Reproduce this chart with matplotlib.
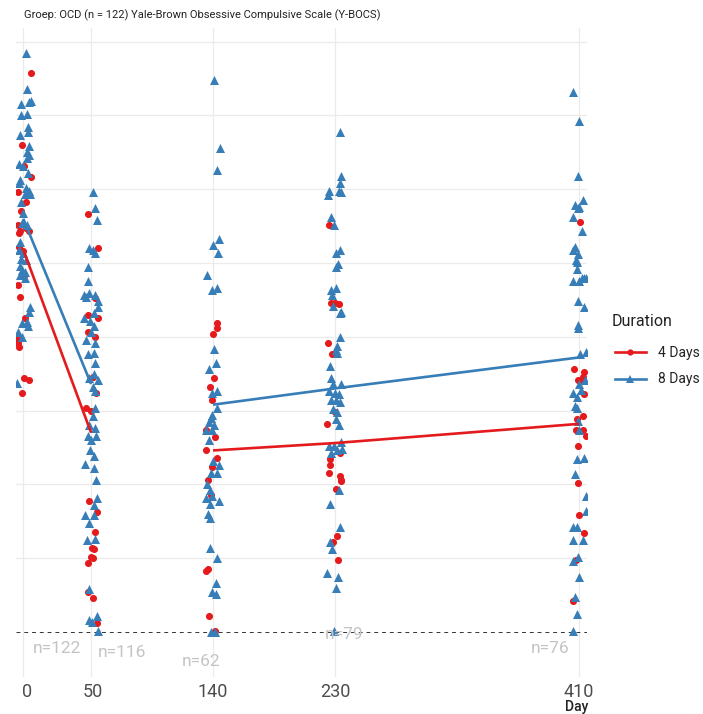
import matplotlib
matplotlib.use("Agg")
import matplotlib.pyplot as plt
import matplotlib.transforms as mtransforms
from matplotlib.lines import Line2D

plt.rcParams['font.family'] = ['Roboto', 'DejaVu Sans']

# ---- data ----
days = [0, 50, 140, 230, 410]
day_labels = ["0", "50", "140", "230", "410"]
n_per_day = [122, 116, 62, 79, 76]
groups = ["4 Days", "8 Days"]

# Y-BOCS scores per day (4 days group)
red_scores = {
    0: [37.9, 33.0, 31.6, 30.8, 29.8, 29.1, 28.5, 27.6, 27.2, 27.4, 27.2, 27.0, 26.1, 25.8,
        24.1, 23.5, 22.7, 21.3, 19.9, 19.6, 19.3, 17.2, 17.1, 16.2],
    50: [28.3, 26.0, 22.6, 21.5, 21.3, 20.3, 20.0, 17.3, 16.2, 15.2, 15.0, 8.9, 8.1, 6.8,
         5.7, 5.6, 5.1, 5.0, 4.7, 2.7, 2.3, 0.6],
    140: [20.9, 20.6, 20.2, 17.2, 16.6, 15.7, 13.7, 13.2, 12.3, 11.8, 11.2, 10.3, 9.3, 4.1,
          4.3, 1.1, 0.1],
    230: [27.6, 22.3, 22.3, 22.2, 19.6, 18.8, 14.9, 14.1, 12.1, 11.7, 11.3, 10.8, 10.6, 10.3,
          10.2, 9.7, 6.5, 6.1, 4.9],
    410: [27.8, 17.8, 17.6, 17.3, 17.1, 17.1, 16.1, 14.6, 14.4, 13.7, 13.7, 13.3, 12.6, 10.1,
          7.9, 6.7, 4.9, 2.1],
}
# horizontal jitter (days) of each red point as seen in the picture
red_jitter = {
    0: [5.5, -0.7, 0.5, 5.7, -3.7, 1.8, -1.7, -3.9, -2.8, 1.8, 4.2, -3.2, -3.2, -0.2,
        0.5, -3.7, -2.4, 1.3, -3.9, -3.9, -3.2, 0.5, 4.2, -1.2],
    50: [-2.0, 5.4, 3.0, -2.5, 4.9, -2.5, 3.2, 1.2, 3.7, -3.7, 0.0, -1.3, 4.1, 3.2,
         0.7, 2.4, 0.0, 1.7, -2.5, -2.5, 1.2, 4.1],
    140: [2.7, 2.7, 0.0, 0.7, -2.4, -0.5, -5.4, 1.3, -4.9, 3.2, -1.0, -3.7, -1.7, -4.9,
          -3.5, -3.0, 1.3],
    230: [-4.4, -3.2, 0.0, 3.0, -4.9, -2.0, 0.0, -5.7, 3.5, -3.9, -3.7, -4.4, 3.5, 4.2,
          4.2, 0.5, 1.3, -1.3, 2.4],
    410: [0.7, -3.7, 3.7, 3.2, -1.0, 2.0, 3.7, 2.7, -1.3, -2.4, 3.2, 4.9, -0.5, -0.5,
          0.2, 3.9, -2.2, -4.6],
}

# Y-BOCS scores per day (8 days group)
blue_scores = {
    0: [39.2, 36.8, 35.8, 35.9, 36.0, 35.0, 35.1, 34.2, 33.9, 33.7, 32.9, 32.5, 32.3, 32.1,
        31.7, 31.6, 31.1, 30.6, 30.4, 30.1, 29.9, 29.7, 29.7, 29.1, 28.4, 27.7, 27.6, 26.4,
        25.9, 25.7, 25.3, 25.2, 24.8, 24.5, 24.4, 24.2, 24.0, 22.0, 21.7, 20.9, 21.0, 20.7,
        20.3, 20.0, 16.9],
    50: [29.8, 28.7, 27.9, 26.0, 25.9, 25.7, 24.7, 23.8, 22.8, 23.0, 22.7, 22.8, 22.4, 22.0,
         21.6, 21.3, 21.1, 20.7, 20.3, 19.8, 19.6, 18.9, 18.8, 18.2, 17.5, 17.2, 17.1, 16.6,
         16.3, 15.2, 14.6, 14.0, 13.8, 13.3, 13.3, 13.0, 12.3, 11.9, 11.4, 11.1, 10.3, 9.1,
         8.6, 7.9, 7.9, 7.4, 6.2, 6.3, 2.9, 1.1, 0.8, 0.7, 0.1],
    140: [37.4, 32.8, 31.3, 26.6, 26.2, 25.7, 24.2, 23.2, 23.3, 19.2, 18.2, 17.8, 16.3, 16.2,
          15.2, 14.7, 14.5, 14.2, 14.0, 13.7, 13.7, 13.0, 11.6, 11.3, 10.8, 10.8, 10.0, 9.6,
          9.1, 9.2, 8.7, 8.9, 8.0, 7.7, 5.7, 5.0, 3.3, 2.7, 2.6, 0.0, 0.0],
    230: [33.9, 30.9, 30.4, 29.9, 29.9, 29.8, 29.6, 28.1, 27.6, 25.9, 25.7, 24.9, 24.7, 23.2,
          23.3, 22.8, 22.1, 21.7, 21.6, 20.0, 19.4, 19.1, 18.9, 18.0, 17.2, 16.8, 16.8, 16.3,
          16.2, 16.1, 15.7, 15.7, 15.6, 15.1, 14.9, 14.4, 14.0, 12.9, 12.4, 12.6, 12.6, 12.1,
          12.3, 9.6, 8.7, 7.1, 6.1, 5.6, 4.0, 3.7, 3.0, 0.1],
    410: [36.6, 34.6, 30.9, 29.3, 28.9, 28.7, 28.8, 28.1, 27.2, 26.1, 25.9, 25.6, 25.2, 25.1,
          24.6, 23.8, 23.8, 24.0, 24.0, 24.0, 22.4, 22.0, 20.8, 20.6, 18.8, 19.0, 17.1, 16.8,
          16.4, 16.2, 15.9, 15.3, 15.2, 14.3, 13.7, 11.7, 11.8, 10.7, 9.2, 8.2, 7.1, 7.1,
          6.2, 6.2, 4.8, 5.1, 3.7, 2.4, 1.2, 0.1],
}
blue_jitter = {
    0: [1.8, 3.0, -1.7, 4.2, 5.5, -1.7, 3.0, 3.7, 3.7, -2.4, 4.2, 3.0, 4.2, 2.5,
        -3.2, 0.0, 3.7, -2.4, -3.2, 1.8, 4.2, 1.3, 5.0, -1.7, 0.0, -1.2, 2.5, -2.4,
        -3.2, 0.0, -1.7, 1.8, -2.4, -1.0, 1.3, -2.4, 1.3, 5.0, 4.2, -0.7, 2.5, 3.5,
        -3.7, -0.7, -4.6],
    50: [1.2, 3.0, 4.1, -1.3, 1.2, 3.0, -2.0, -2.5, -5.5, -1.3, -3.7, 3.0, 4.9, 5.4,
         2.4, -4.9, -0.5, 1.9, 0.0, -3.7, 3.0, 2.4, -2.5, 3.0, 1.9, -1.3, 5.4, 1.2,
         3.0, 3.0, 1.2, -1.3, 3.0, -2.5, 3.7, 0.0, -0.7, 2.4, -4.2, 2.4, 3.7, 4.1,
         2.4, -4.2, 2.4, -1.8, -3.2, 3.2, -1.8, 4.1, -1.3, 0.7, 4.9],
    140: [0.7, 4.9, 2.7, 4.4, 0.2, 3.7, -4.2, -0.5, 2.7, 0.7, 2.0, -3.0, 3.2, -0.5,
          3.2, -0.5, -1.7, -3.0, 0.7, -0.5, -4.9, -3.0, 0.0, 4.4, -1.7, 2.7, -4.2, -2.2,
          -4.9, -1.0, -2.4, 4.4, -3.5, -2.2, -2.4, 3.2, 2.0, -1.0, 2.0, -1.7, 1.5],
    230: [3.5, 4.6, 3.7, -4.4, 3.0, 4.2, -5.2, -3.2, -0.7, 3.5, 0.5, 2.4, 0.5, -3.2,
          1.0, -2.4, -1.3, 4.2, 3.5, 3.5, 1.7, 0.5, 1.7, -3.7, -3.2, -1.5, 4.6, -4.4,
          -0.2, 3.0, -3.2, 0.5, 3.5, -1.3, 1.7, 0.5, 3.0, 4.2, 4.9, -4.4, -0.7, -3.2,
          1.7, 3.0, -3.7, 3.5, -3.7, -2.0, -5.7, 2.4, 1.0, -0.7],
    410: [-4.2, 0.0, -1.0, 2.7, -3.0, -0.5, 0.2, -4.2, 2.0, -3.0, -4.6, -1.0, -2.2, -1.7,
          -1.7, -4.6, 0.2, 2.0, 3.7, 5.2, -0.5, 3.9, -1.0, -0.5, 0.7, 5.2, 4.4, 0.0,
          1.3, -4.2, -1.3, -3.0, -1.7, -0.5, 0.2, -1.7, 3.7, -3.0, 4.9, 4.9, -4.2, -1.3,
          -4.2, 3.2, -4.6, -0.5, 0.2, -3.0, -1.7, -4.6],
}

# estimated group means (lines), two phases
red_means = {0: 25.9, 50: 13.5, 140: 12.3, 230: 12.8, 410: 14.1}
blue_means = {0: 28.0, 50: 16.8, 140: 15.4, 230: 16.5, 410: 18.6}
phases = [[0, 50], [140, 230, 410]]

title = "Groep: OCD (n = 122) Yale-Brown Obsessive Compulsive Scale (Y-BOCS)"

# ---- style ----
RED = "#E41A1C"
BLUE = "#377EB8"
W, H = 703, 714

fig = plt.figure(figsize=(W / 100, H / 100), dpi=100)
ax = fig.add_axes([16 / W, 1 - 677 / H, (587 - 16) / W, (677 - 28) / H])

for d in days:
    ax.scatter([d + j for j in red_jitter[d]], red_scores[d], marker="o", s=26,
               color=RED, linewidths=0, zorder=3)
    ax.scatter([d + j for j in blue_jitter[d]], blue_scores[d], marker="^", s=42,
               color=BLUE, linewidths=0, zorder=3)

for ph in phases:
    ax.plot(ph, [red_means[d] for d in ph], color=RED, lw=1.9, zorder=4,
            solid_capstyle="butt")
    ax.plot(ph, [blue_means[d] for d in ph], color=BLUE, lw=1.9, zorder=4,
            solid_capstyle="butt")

ax.axhline(0, color="#333333", lw=0.7, ls=(0, (4, 4)), zorder=2)

# n labels (placement as in the picture)
n_label_pos = [(25, -1.15), (73, -1.4), (131, -2.0), (237, -0.2), (389, -1.1)]
for n, (lx, ly) in zip(n_per_day, n_label_pos):
    ax.text(lx, ly, f"n={n}", color="#c4c4c4", fontsize=12.5, ha="center", va="center",
            zorder=5)

ax.set_xlim(-5.4, 415.9)
ax.set_ylim(-3.05, 40.92)
ax.set_xticks(days)
ax.set_xticklabels(day_labels)
ax.set_yticks(range(5, 41, 5))
ax.set_yticklabels([])
ax.tick_params(length=0, pad=4, labelsize=13, labelcolor="#4d4d4d")
ax.grid(True, color="#ebebeb", lw=0.9, zorder=0)
ax.set_axisbelow(True)
for s in ax.spines.values():
    s.set_visible(False)

# the two left tick labels sit a little right of their grid lines in the picture
for lab, shift in zip(ax.get_xticklabels(), [4, 2, 0, 0, 0]):
    lab.set_transform(lab.get_transform() +
                      mtransforms.ScaledTranslation(shift / 100, 0, fig.dpi_scale_trans))

fig.text(24 / W, 1 - 15 / H, title, fontsize=8, color="#222222", ha="left", va="center")
fig.text(588 / W, 1 - 707 / H, "Day", fontsize=10, fontweight="medium", color="#222222",
         ha="right", va="center")

# legend
fig.text(612 / W, 1 - 322 / H, "Duration", fontsize=11.5, color="#222222",
         ha="left", va="center")
handles = [
    Line2D([0], [0], color=RED, lw=1.9, marker="o", markersize=4.5, markeredgewidth=0),
    Line2D([0], [0], color=BLUE, lw=1.9, marker="^", markersize=6, markeredgewidth=0),
]
fig.legend(handles, groups, loc="upper left", bbox_to_anchor=(608 / W, 1 - 339 / H),
           frameon=False, fontsize=10, handlelength=2.2, handletextpad=0.9,
           labelspacing=0.9, borderpad=0, labelcolor="#222222")

fig.savefig("out.png", dpi=100)
